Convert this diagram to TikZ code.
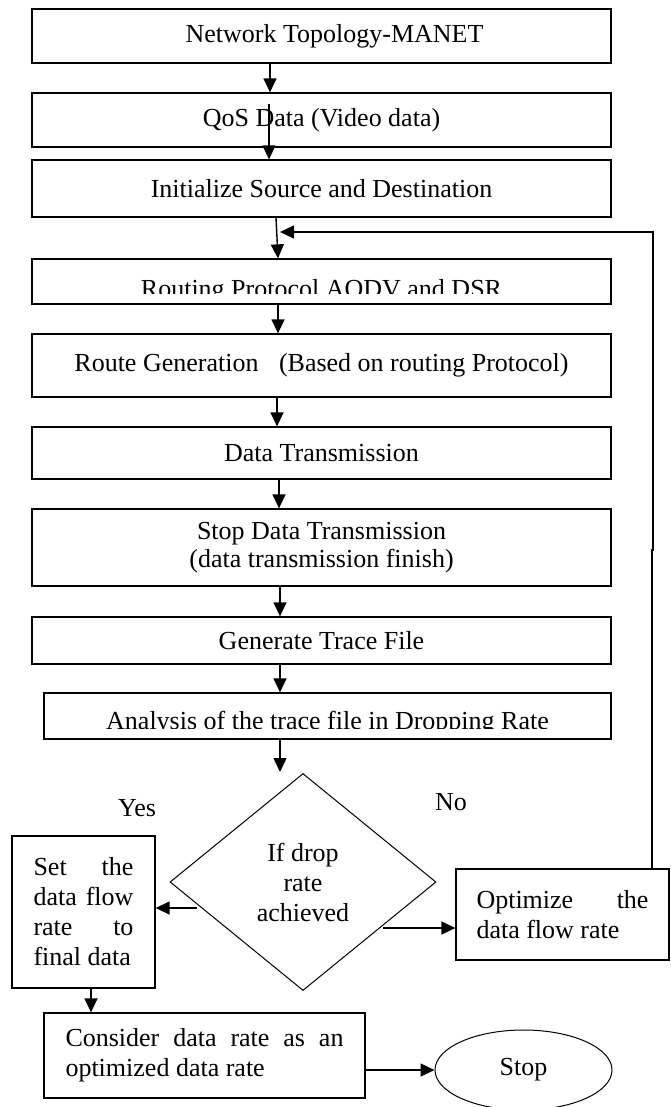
\documentclass[tikz,border=0pt]{standalone}
\usepackage{fontspec}
\setmainfont{Liberation Serif}
\usetikzlibrary{arrows.meta,shapes.geometric}
\begin{document}
\begin{tikzpicture}[x=1pt,y=-1pt,
  every node/.style={font={\fontsize{26}{30}\selectfont}},
  box/.style={draw,line width=1.3pt,inner sep=0pt,align=center},
  wbox/.style={box,minimum width=579pt},
  thin/.style={draw,line width=1pt,inner sep=0pt,align=center},
  arr/.style={line width=1.4pt,-{Triangle[length=14pt,width=13pt]}},
  ret/.style={line width=1.2pt,-{Triangle[length=14pt,width=13pt]}},
  lbl/.style={inner sep=0pt}
]
\useasboundingbox (0,0) rectangle (670,1107);

\node[wbox,minimum height=54pt] (b1) at (321.5,36) {\hspace*{26pt}Network Topology-MANET};
\node[wbox,minimum height=54pt] (b2) at (321.5,120) {QoS Data (Video data)};
\node[wbox,minimum height=57pt] (b3) at (321.5,188.5) {Initialize Source and Destination};
\node[wbox,minimum height=45pt] (b4) at (321.5,281.5) {};
\begin{scope}
  \clip (32,259) rectangle (611,293);
  \node[lbl,anchor=base] (t4) at (321.5,297) {Routing Protocol AODV and DSR};
\end{scope}
\node[wbox,minimum height=63pt] (b5) at (321.5,365.5) {Route Generation\hspace{14pt} (Based on routing Protocol)};
\node[wbox,minimum height=52pt] (b6) at (321.5,453) {Data Transmission};
\node[wbox,minimum height=77pt,font={\fontsize{26}{28}\selectfont}] (b7) at (321.5,547.5) {Stop Data Transmission\\(data transmission finish)};
\node[wbox,minimum height=47pt] (b8) at (321.5,640.5) {Generate Trace File};
\node[box,minimum width=567pt,minimum height=46pt] (b9) at (327.5,716) {};
\begin{scope}
  \clip (44,693) rectangle (611,728);
  \node[lbl,anchor=base] (t9) at (327.5,729) {Analysis of the trace file in Dropping Rate};
\end{scope}

\node[thin,diamond,minimum width=266pt,minimum height=217pt] (dia) at (303,882) {If drop\\rate\\achieved};

\node[box,text width=100pt,align=justify,inner xsep=21.5pt,minimum height=152pt] (set) at (83.5,912) {Set the\linebreak data flow\linebreak rate to\linebreak final data};
\node[box,text width=172pt,align=justify,inner xsep=20.5pt,minimum height=91pt] (opt) at (562.5,914.5) {Optimize the\linebreak data flow rate};
\node[box,text width=278pt,align=justify,inner xsep=21.5pt,minimum height=85pt] (cons) at (204.5,1055.5) {Consider data rate as an\linebreak optimized data rate};
\node[thin,ellipse,minimum width=177pt,minimum height=80pt] (stop) at (523.5,1070) {Stop};

\node[lbl] (yes) at (137,808) {Yes};
\node[lbl] (no) at (451,802) {No};

\coordinate (ret) at (280,232);
\coordinate (jog) at (652,550);

\draw[arr] ([xshift=-51.5pt]b1.south) -- ([xshift=-51.5pt]b2.north);
\draw[arr] ([xshift=-52.5pt,yshift=-12pt]b2.north) -- ([xshift=-52.5pt]b3.north);
\draw[arr] ([xshift=-45.5pt]b3.south) -- ([xshift=-43.5pt]b4.north);
\draw[arr] ([xshift=-43.5pt]b4.south) -- ([xshift=-43.5pt]b5.north);
\draw[arr] ([xshift=-44.5pt]b5.south) -- ([xshift=-44.5pt]b6.north);
\draw[arr] ([xshift=-42.5pt]b6.south) -- ([xshift=-42.5pt]b7.north);
\draw[arr] ([xshift=-41.5pt]b7.south) -- ([xshift=-41.5pt]b8.north);
\draw[arr] ([xshift=-41.5pt]b8.south) -- ([xshift=-47.5pt]b9.north);
\draw[arr] ([xshift=-47.5pt]b9.south) -- ([xshift=-23pt,yshift=1pt]dia.north);
\draw[arr] ([xshift=27pt,yshift=-26pt]dia.west) -- ([yshift=4pt]set.east);
\draw[arr] ([xshift=-54pt,yshift=-46pt]dia.east) -- ([yshift=-13.5pt]opt.west);
\draw[arr] ([xshift=7.5pt]set.south) -- ([xshift=-113.5pt]cons.north);
\draw[arr] ([yshift=-14.5pt]cons.east) -- (stop.west);
\draw[ret] ([xshift=89.5pt]opt.north) -- (jog) -- ++(1pt,0) |- (ret);
\end{tikzpicture}
\end{document}
